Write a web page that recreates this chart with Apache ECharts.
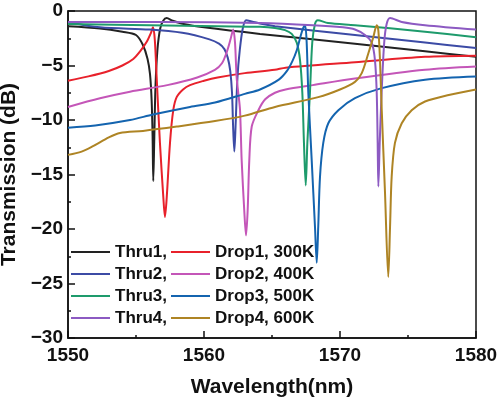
<!DOCTYPE html>
<html>
<head>
<meta charset="utf-8">
<script src="https://cdn.jsdelivr.net/npm/echarts@6/dist/echarts.min.js"></script>
<style>
html,body{margin:0;padding:0;background:#fff;}
#chart{width:500px;height:404px;}
</style>
</head>
<body>
<div id="chart"></div>
<script>
// [wavelength (nm), transmission (dB)]
const thru1 = [[1550,-1.4],[1552.35,-1.6],[1554,-1.9],[1555,-2.2],[1555.5,-3.1],[1555.85,-4.4],[1556.03,-5.8],[1556.15,-8.2],[1556.22,-11.5],[1556.27,-15.6],[1556.34,-12.0],[1556.43,-7.0],[1556.58,-3.5],[1556.78,-1.6],[1557.0,-0.9],[1557.25,-0.65],[1557.7,-0.9],[1558.5,-1.2],[1560,-1.5],[1564.12,-2.1],[1571.1,-3.0],[1576.25,-3.7],[1580,-4.2]];
const drop1 = [[1550,-6.4],[1551.5,-6.0],[1553,-5.5],[1554,-5.0],[1554.8,-4.4],[1555.3,-3.7],[1555.8,-2.8],[1556.1,-2.0],[1556.25,-1.5],[1556.38,-2.6],[1556.52,-6.1],[1556.76,-12.1],[1557.01,-17.1],[1557.13,-18.9],[1557.26,-17.1],[1557.5,-12.1],[1557.74,-9.1],[1557.99,-7.9],[1558.46,-7.2],[1558.97,-6.8],[1560,-6.4],[1561,-6.1],[1563,-5.7],[1565.2,-5.4],[1566,-5.2],[1571.1,-4.7],[1576.25,-4.2],[1580,-4.1]];
const thru2 = [[1550,-1.0],[1552.35,-1.5],[1556,-1.7],[1558.4,-2.0],[1560.4,-2.6],[1561.1,-3.0],[1561.5,-3.5],[1561.75,-4.3],[1561.93,-5.5],[1562.06,-7.5],[1562.14,-10.6],[1562.23,-12.9],[1562.32,-10.6],[1562.46,-6.1],[1562.63,-3.6],[1562.85,-1.6],[1563.1,-0.85],[1563.5,-0.95],[1564.3,-1.2],[1565.22,-1.4],[1571.1,-2.2],[1576.25,-2.9],[1580,-3.4]];
const drop2 = [[1550,-8.8],[1552.35,-8.0],[1554.56,-7.4],[1557.3,-6.8],[1559.5,-6.1],[1560.8,-5.4],[1561.32,-4.8],[1561.69,-3.7],[1561.95,-2.6],[1562.15,-1.7],[1562.28,-2.9],[1562.4,-6.1],[1562.52,-7.5],[1562.65,-9.1],[1562.77,-13.7],[1562.96,-18.3],[1563.09,-20.6],[1563.21,-18.3],[1563.33,-13.7],[1563.51,-10.6],[1564.0,-9.1],[1564.5,-8.1],[1565.22,-7.5],[1566,-7.2],[1568,-6.8],[1571.1,-6.2],[1576.25,-5.4],[1580,-5.1]];
const thru3 = [[1550,-1.2],[1556,-1.3],[1561,-1.4],[1564.12,-1.45],[1565.22,-1.55],[1565.96,-1.75],[1566.45,-2.1],[1566.82,-2.9],[1567.06,-4.5],[1567.23,-7.5],[1567.35,-12.1],[1567.48,-16.0],[1567.6,-12.1],[1567.79,-7.5],[1567.96,-2.9],[1568.16,-1.2],[1568.36,-0.85],[1569.12,-1.1],[1571.1,-1.3],[1576.25,-1.9],[1580,-2.4]];
const drop3 = [[1550,-10.7],[1552,-10.5],[1554.56,-10.0],[1556.25,-9.5],[1558.97,-8.8],[1560.81,-8.4],[1563,-7.6],[1564.12,-7.2],[1565.5,-6.3],[1566.1,-5.5],[1566.5,-4.6],[1566.82,-3.6],[1567.06,-2.5],[1567.28,-1.6],[1567.43,-1.3],[1567.55,-2.9],[1567.67,-7.5],[1567.92,-13.7],[1568.16,-19.8],[1568.29,-23.1],[1568.4,-19.8],[1568.53,-15.2],[1568.77,-12.1],[1569.14,-10.3],[1569.88,-9.1],[1571.1,-8.0],[1573,-7.1],[1576.25,-6.3],[1580,-6.0]];
const thru4 = [[1550,-1.0],[1556.76,-1.0],[1564.12,-1.1],[1568,-1.3],[1570.22,-1.5],[1571.1,-1.7],[1571.84,-2.2],[1572.33,-2.9],[1572.57,-4.5],[1572.7,-7.5],[1572.77,-12.1],[1572.82,-16.1],[1572.92,-12.1],[1573.06,-7.5],[1573.25,-2.9],[1573.43,-1.2],[1573.68,-0.65],[1574.54,-1.0],[1576.25,-1.3],[1580,-1.7]];
const drop4 = [[1550,-13.2],[1551,-12.9],[1551.84,-12.4],[1553,-11.6],[1553.82,-11.2],[1555.51,-11.0],[1558,-10.6],[1560.81,-10.1],[1563,-9.6],[1565.22,-8.8],[1568.4,-7.9],[1570,-7.2],[1571.1,-6.5],[1571.6,-5.7],[1572.08,-3.9],[1572.45,-2.4],[1572.7,-1.3],[1572.82,-1.8],[1572.94,-4.5],[1573.07,-9.1],[1573.31,-16.7],[1573.55,-24.4],[1573.68,-19.8],[1573.8,-15.2],[1574.04,-12.1],[1574.54,-10.3],[1575.27,-9.1],[1576.25,-8.3],[1578,-7.7],[1580,-7.2]];

const seriesNames = ['Thru1,','Drop1, 300K','Thru2,','Drop2, 400K','Thru3,','Drop3, 500K','Thru4,','Drop4, 600K'];
const seriesData = [thru1, drop1, thru2, drop2, thru3, drop3, thru4, drop4];
const colors = ['#222222','#E8212B','#3C4BA5','#C456B8','#1E9B6C','#1464AF','#8C5AC2','#AE8424'];
const xTicks = [1550, 1560, 1570, 1580];
const yTicks = [-30, -25, -20, -15, -10, -5, 0];

const FONT = 'Liberation Sans, Arial, sans-serif';
const chart = echarts.init(document.getElementById('chart'), null, {renderer: 'canvas'});

const legendCommon = {
  orient: 'vertical',
  top: 241,
  padding: 0,
  itemWidth: 39,
  itemHeight: 2,
  itemGap: 0,
  icon: 'rect',
  selectedMode: false,
  textStyle: {fontFamily: FONT, fontWeight: 'bold', fontSize: 17, color: '#111', lineHeight: 22}
};

chart.setOption({
  animation: false,
  backgroundColor: '#fff',
  grid: {left: 68, right: 24, top: 11, bottom: 66, containLabel: false, outerBoundsMode: 'none',
    show: true, borderColor: '#111', borderWidth: 1.5, backgroundColor: 'transparent'},
  legend: [
    Object.assign({}, legendCommon, {left: 71, data: seriesNames.filter((n, i) => i % 2 === 0)}),
    Object.assign({}, legendCommon, {left: 171, data: seriesNames.filter((n, i) => i % 2 === 1)})
  ],
  xAxis: {
    type: 'value', min: xTicks[0], max: xTicks[xTicks.length - 1], interval: 10,
    name: 'Wavelength(nm)', nameLocation: 'middle', nameGap: 39,
    nameTextStyle: {fontFamily: FONT, fontWeight: 'bold', fontSize: 21, color: '#111'},
    axisLine: {onZero: false, lineStyle: {color: '#111', width: 1.5}},
    axisTick: {inside: true, length: 7, lineStyle: {color: '#111', width: 1.5}},
    minorTick: {show: true, splitNumber: 2, length: 3, lineStyle: {color: '#111', width: 1.5}},
    splitLine: {show: false},
    axisLabel: {fontFamily: FONT, fontWeight: 'bold', fontSize: 19, color: '#111', margin: 8,
      formatter: v => String(v)}
  },
  yAxis: {
    type: 'value', min: yTicks[0], max: yTicks[yTicks.length - 1], interval: 5,
    name: 'Transmission (dB)', nameLocation: 'middle', nameGap: 42,
    nameTextStyle: {fontFamily: FONT, fontWeight: 'bold', fontSize: 21, color: '#111'},
    axisLine: {onZero: false, lineStyle: {color: '#111', width: 1.5}},
    axisTick: {inside: true, length: 7, lineStyle: {color: '#111', width: 1.5}},
    minorTick: {show: true, splitNumber: 2, length: 3, lineStyle: {color: '#111', width: 1.5}},
    splitLine: {show: false},
    axisLabel: {fontFamily: FONT, fontWeight: 'bold', fontSize: 19, color: '#111', margin: 5,
      formatter: v => String(v).replace('-', '\u2212')}
  },
  series: seriesNames.map((name, i) => ({
    name: name,
    type: 'line',
    data: seriesData[i],
    showSymbol: false,
    symbol: 'none',
    smooth: 0.3,
    color: colors[i],
    lineStyle: {color: colors[i], width: 2}
  }))
});
</script>
</body>
</html>
